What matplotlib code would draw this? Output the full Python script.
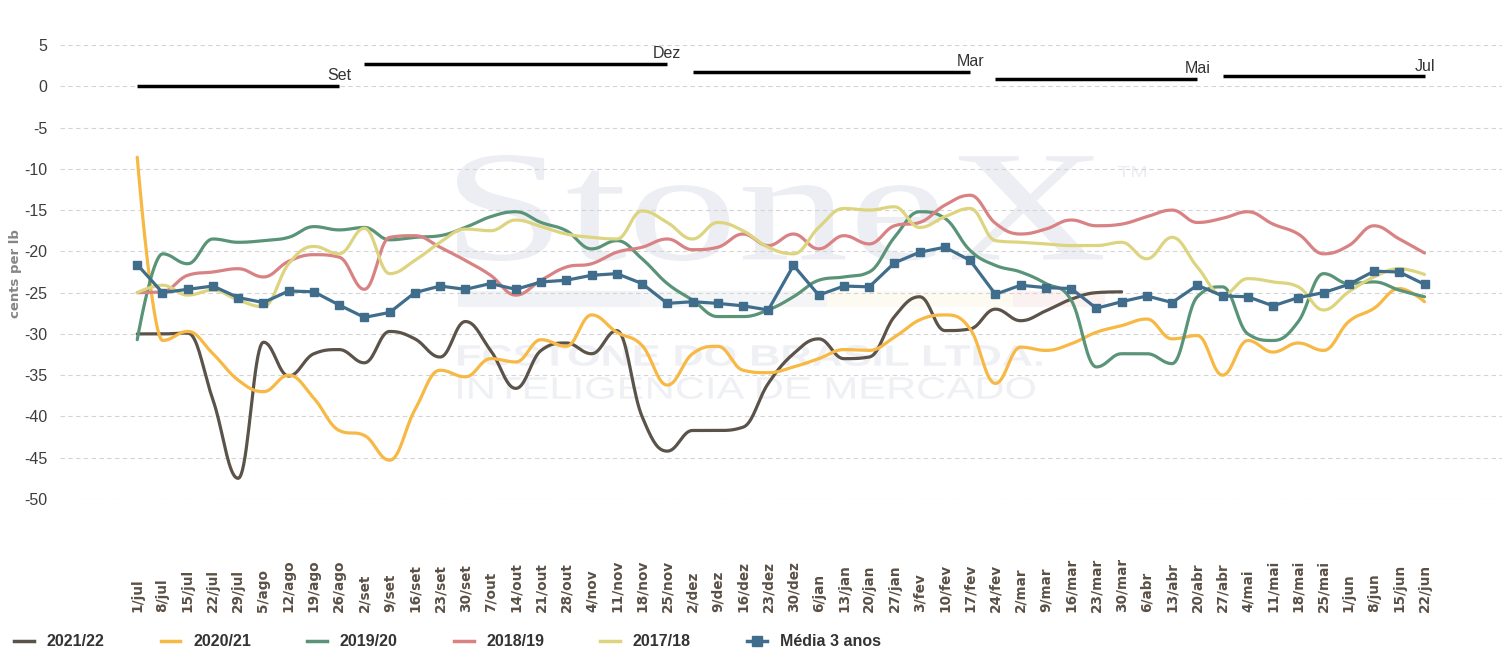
import numpy as np
import matplotlib.pyplot as plt
from matplotlib.patches import PathPatch, Rectangle
from matplotlib.textpath import TextPath
from matplotlib.font_manager import FontProperties
from matplotlib.transforms import Affine2D
from matplotlib.lines import Line2D

plt.rcParams['axes.unicode_minus'] = False

W, H = 1511, 668

weeks = ['1/jul', '8/jul', '15/jul', '22/jul', '29/jul', '5/ago', '12/ago', '19/ago', '26/ago',
         '2/set', '9/set', '16/set', '23/set', '30/set', '7/out', '14/out', '21/out', '28/out',
         '4/nov', '11/nov', '18/nov', '25/nov', '2/dez', '9/dez', '16/dez', '23/dez', '30/dez',
         '6/jan', '13/jan', '20/jan', '27/jan', '3/fev', '10/fev', '17/fev', '24/fev',
         '2/mar', '9/mar', '16/mar', '23/mar', '30/mar', '6/abr', '13/abr', '20/abr', '27/abr',
         '4/mai', '11/mai', '18/mai', '25/mai', '1/jun', '8/jun', '15/jun', '22/jun']

s2122 = [-30.0, -30.0, -29.9, -38.0, -47.5, -31.0, -35.1, -32.4, -31.9, -33.5,
         -29.7, -30.6, -32.8, -28.5, -32.0, -36.6, -32.0, -31.1, -32.4, -29.6,
         -40.0, -44.2, -41.7, -41.7, -41.3, -36.0, -32.4, -30.6, -33.0, -32.8,
         -27.9, -25.5, -29.6, -29.4, -27.0, -28.4, -27.2, -25.8, -25.0, -24.9]
s2021 = [-8.6, -30.8, -29.7, -32.4, -35.6, -37.0, -35.0, -37.8, -41.7, -42.3,
         -45.3, -39.2, -34.4, -35.2, -33.0, -33.4, -30.7, -31.5, -27.7, -29.8,
         -31.4, -36.2, -32.4, -31.5, -34.4, -34.7, -34.0, -33.0, -31.9, -32.0,
         -30.4, -28.3, -27.7, -29.4, -36.0, -31.6, -32.0, -31.2, -29.8, -29.0,
         -28.2, -30.6, -30.2, -35.0, -30.8, -32.2, -31.1, -32.0, -28.5, -26.9,
         -24.5, -26.1]
s1920 = [-30.7, -20.3, -21.5, -18.5, -18.9, -18.7, -18.3, -17.0, -17.4, -17.1,
         -18.6, -18.3, -18.1, -17.1, -15.8, -15.2, -16.5, -17.5, -19.7, -18.7,
         -20.9, -23.9, -25.9, -27.9, -27.9, -27.1, -25.5, -23.5, -23.1, -22.5,
         -18.3, -15.2, -16.0, -19.9, -21.7, -22.5, -23.9, -25.9, -34.0, -32.4,
         -32.4, -33.6, -25.5, -24.3, -30.0, -30.8, -28.5, -22.7, -23.9, -23.7,
         -24.7, -25.5]
s1819 = [-25.0, -24.9, -22.9, -22.5, -22.1, -23.1, -21.2, -20.4, -20.7, -24.6,
         -18.3, -18.1, -19.5, -21.1, -22.9, -25.3, -23.5, -21.9, -21.5, -20.1,
         -19.5, -18.5, -19.8, -19.5, -17.9, -19.3, -17.9, -19.7, -18.1, -19.1,
         -16.9, -16.5, -14.4, -13.2, -16.6, -17.9, -17.3, -16.2, -16.9, -16.7,
         -15.8, -15.0, -16.5, -16.0, -15.2, -16.7, -17.9, -20.3, -19.3, -16.9,
         -18.5, -20.2]
s1718 = [-25.0, -24.1, -25.3, -24.7, -25.9, -26.7, -21.5, -19.4, -20.3, -17.2,
         -22.7, -21.1, -18.9, -17.3, -17.5, -16.2, -17.0, -17.9, -18.3, -18.5,
         -15.1, -16.5, -18.5, -16.5, -17.5, -19.5, -20.3, -17.1, -14.8, -15.0,
         -14.6, -17.1, -15.8, -14.8, -18.7, -18.9, -19.1, -19.3, -19.3, -18.9,
         -20.9, -18.3, -21.9, -25.3, -23.3, -23.7, -24.3, -27.1, -24.9, -23.1,
         -22.1, -22.8]
media = [-21.6, -25.0, -24.6, -24.2, -25.6, -26.2, -24.8, -24.9, -26.5, -28.0,
         -27.4, -25.0, -24.2, -24.6, -23.9, -24.6, -23.7, -23.5, -22.9, -22.7,
         -23.9, -26.3, -26.1, -26.3, -26.6, -27.1, -21.7, -25.3, -24.2, -24.3,
         -21.4, -20.1, -19.5, -21.1, -25.2, -24.1, -24.4, -24.5, -26.9, -26.1,
         -25.4, -26.2, -24.1, -25.4, -25.5, -26.6, -25.6, -25.0, -24.0, -22.4,
         -22.5, -24.0]

periods = ['Set', 'Dez', 'Mar', 'Mai', 'Jul']
period_start = [0, 9, 22, 34, 43]
period_end = [8, 21, 33, 42, 51]
period_value = [0.0, 2.7, 1.7, 0.85, 1.2]

series = [
    ('2021/22', s2122, '#5b534a'),
    ('2020/21', s2021, '#f7b844'),
    ('2019/20', s1920, '#5a9478'),
    ('2018/19', s1819, '#d98283'),
    ('2017/18', s1718, '#ddd47f'),
]
media_color = '#3f6d8b'


def spline(y, steps=20):
    # highcharts-like smoothing through every point
    y = np.asarray(y, float)
    x = np.arange(len(y), dtype=float)
    n = len(y)
    lcx, lcy, rcx, rcy = x.copy(), y.copy(), x.copy(), y.copy()
    for i in range(1, n - 1):
        lx = (1.5 * x[i] + x[i - 1]) / 2.5
        ly = (1.5 * y[i] + y[i - 1]) / 2.5
        rx = (1.5 * x[i] + x[i + 1]) / 2.5
        ry = (1.5 * y[i] + y[i + 1]) / 2.5
        corr = (ry - ly) * (rx - x[i]) / (rx - lx) + y[i] - ry
        ly += corr
        ry += corr
        if ly > y[i - 1] and ly > y[i]:
            ly = max(y[i - 1], y[i]); ry = 2 * y[i] - ly
        elif ly < y[i - 1] and ly < y[i]:
            ly = min(y[i - 1], y[i]); ry = 2 * y[i] - ly
        if ry > y[i + 1] and ry > y[i]:
            ry = max(y[i + 1], y[i]); ly = 2 * y[i] - ry
        elif ry < y[i + 1] and ry < y[i]:
            ry = min(y[i + 1], y[i]); ly = 2 * y[i] - ry
        lcx[i], lcy[i], rcx[i], rcy[i] = lx, ly, rx, ry
    t = np.linspace(0, 1, steps, endpoint=False)[:, None]
    xs, ys = [], []
    for i in range(n - 1):
        px = np.array([x[i], rcx[i], lcx[i + 1], x[i + 1]])
        py = np.array([y[i], rcy[i], lcy[i + 1], y[i + 1]])
        b = np.hstack([(1 - t) ** 3, 3 * (1 - t) ** 2 * t, 3 * (1 - t) * t ** 2, t ** 3])
        xs.append(b @ px)
        ys.append(b @ py)
    xs.append([x[-1]])
    ys.append([y[-1]])
    return np.concatenate(xs), np.concatenate(ys)


fig = plt.figure(figsize=(W / 100, H / 100), dpi=100)
ax = fig.add_axes([60 / W, 1 - 499 / H, (1502 - 60) / W, (499 - 45) / H])
ax.set_facecolor('none')

# faint watermark behind the axes
to_px = Affine2D().scale(1 / W, -1 / H).translate(0, 1) + fig.transFigure


def watermark(text, box, family, weight, color):
    x0, y0, x1, y1 = box
    tp = TextPath((0, 0), text, size=100, prop=FontProperties(family=family, weight=weight))
    ext = tp.get_extents()
    tr = (Affine2D().translate(-ext.x0, -ext.y0)
          .scale((x1 - x0) / ext.width, -(y1 - y0) / ext.height)
          .translate(x0, y1)) + to_px
    fig.add_artist(PathPatch(tp, transform=tr, facecolor=color, edgecolor='none', zorder=-1))


watermark('StoneX', (457, 155, 1103, 261), 'Liberation Serif', 'normal', '#eceef3')
watermark('TM', (1118, 166, 1146, 177), 'Liberation Sans', 'normal', '#eceef3')
watermark('FCSTONE DO BRASIL LTDA.', (458, 345, 1042, 366), 'Liberation Sans', 'bold', '#eef0f4')
watermark('INTELIGENCIA DE MERCADO', (458, 377, 1035, 399), 'Liberation Sans', 'normal', '#eef0f4')
for xa, xb, c in [(458, 640, '#f0f2f6'), (640, 827, '#f4f5f7'), (827, 1013, '#fdfaf1'), (1013, 1105, '#fcf1f1')]:
    fig.add_artist(Rectangle((xa, 307), xb - xa, -16, transform=to_px, facecolor=c,
                             edgecolor='none', zorder=-1))

for k, (name, vals, color) in enumerate(series):
    xs, ys = spline(vals)
    ax.plot(xs, ys, color=color, lw=2.3, zorder=2 + k,
            solid_capstyle='round', solid_joinstyle='round')
ax.plot(np.arange(len(media)), media, color=media_color, lw=2.3, marker='s', ms=6,
        zorder=8, solid_joinstyle='round')

# contract period bars
for lab, a, b, v in zip(periods, period_start, period_end, period_value):
    ax.plot([a, b], [v, v], color='black', lw=2.5, solid_capstyle='butt', zorder=9)
    ax.annotate(lab, (b, v), xytext=(0, 2), textcoords='offset points', ha='center', va='bottom',
                fontsize=11.5, family='Liberation Sans', color='#333333', zorder=9)

ax.set_xlim(-3.06, 54.07)
ax.set_ylim(-50, 5)
ax.set_yticks(np.arange(-50, 6, 5))
ax.set_xticks(np.arange(len(weeks)))
ax.set_xticklabels(weeks, rotation=90, ha='center', va='bottom', fontsize=9.8,
                   fontweight='bold', family='DejaVu Sans', color='#5a4f45')
for lbl in ax.get_yticklabels():
    lbl.set_fontfamily('Liberation Sans')
ax.tick_params(axis='x', length=0, pad=81)
ax.tick_params(axis='y', length=0, pad=9, labelsize=11.5, labelcolor='#3d3d3d')
ax.yaxis.grid(True, color='#d4d4d4', lw=0.8, ls=(0, (4, 3)))
ax.set_axisbelow(True)
for sp in ax.spines.values():
    sp.set_visible(False)

fig.text(15 / W, 1 - 274 / H, 'cents per lb', rotation=90, ha='center', va='center',
         fontsize=9.5, fontweight='bold', family='DejaVu Sans', color='#858585')

handles = [Line2D([], [], color=c, lw=2.5) for _, _, c in series]
handles.append(Line2D([], [], color=media_color, lw=2.5, marker='s', ms=7))
labels = [s[0] for s in series] + ['Média 3 anos']
fig.legend(handles, labels, loc='center left', bbox_to_anchor=(6 / W, 26 / H), ncol=6,
           frameon=False, borderpad=0, handlelength=1.25, handletextpad=0.8,
           columnspacing=3.5, prop=FontProperties(family='Liberation Sans', weight='bold', size=11.5),
           labelcolor='#333333')

fig.savefig('out.png', dpi=100)
